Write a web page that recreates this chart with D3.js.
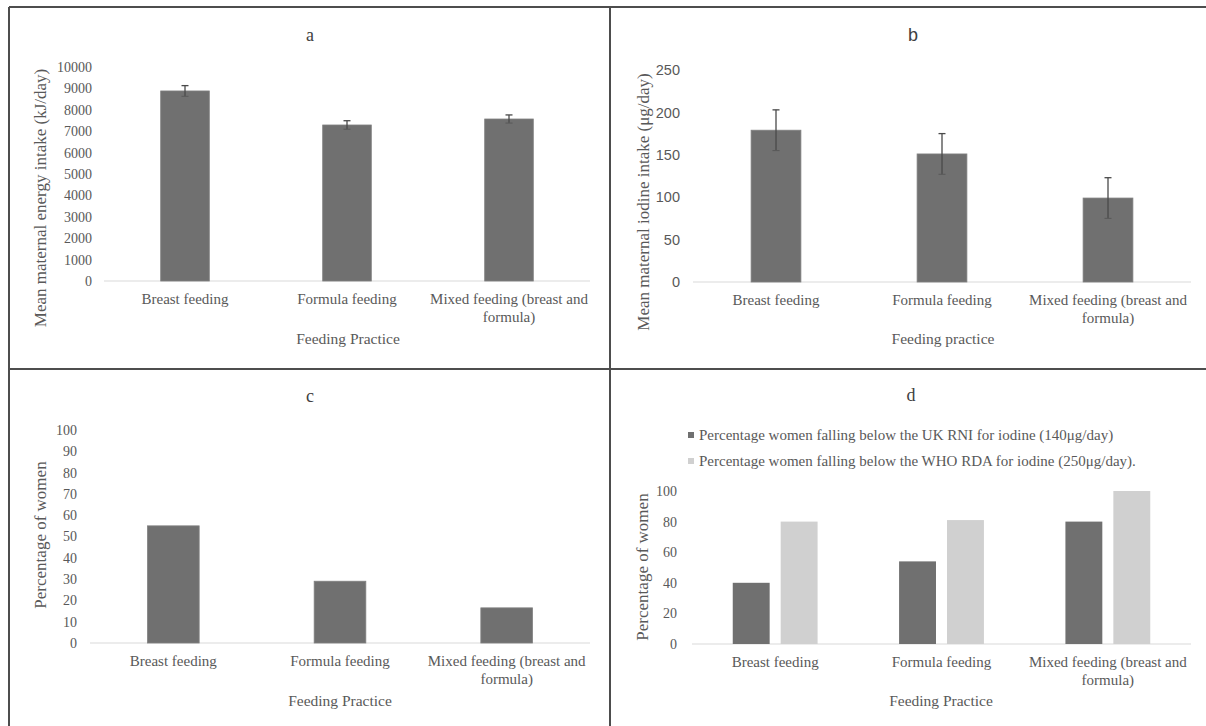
<!DOCTYPE html>
<html><head><meta charset="utf-8">
<script src="https://cdn.jsdelivr.net/npm/d3@7"></script>
<style>
body{margin:0;background:#fff;}
svg{display:block;}
</style></head>
<body>
<svg id="c" width="1206" height="726"></svg>
<script>
// ---- Data ----
const categories = ["Breast feeding", "Formula feeding", "Mixed feeding (breast and formula)"];

const energyMeans = [8880, 7290, 7570];
const energyErr = [250, 200, 190];
const energyTicks = [0,1000,2000,3000,4000,5000,6000,7000,8000,9000,10000];

const iodineMeans = [179, 151, 99];
const iodineErr = [24, 24, 24];
const iodineTicks = [0,50,100,150,200,250];

const pctWomenC = [55, 29, 16.5];
const pctTicksC = [0,10,20,30,40,50,60,70,80,90,100];

const seriesD = ["Percentage women falling below the UK RNI for iodine (140\u03bcg/day)",
                 "Percentage women falling below the WHO RDA for iodine (250\u03bcg/day)."];
const pctBelowRNI = [40, 54, 80];
const pctBelowWHO = [80, 81, 100];
const pctTicksD = [0,20,40,60,80,100];

// ---- Styles ----
const TXT = "#595959", DARK = "#707070", LIGHT = "#d0d0d0", AXIS = "#d9d9d9";
const SERIF = "'Liberation Serif','Times New Roman',serif";
const SANS = "'Liberation Sans',Arial,sans-serif";

const svg = d3.select("#c");

function wrap(sel, width) {
  sel.each(function() {
    const t = d3.select(this);
    const words = t.text().split(/\s+/);
    const y = t.attr("y"), dy = parseFloat(t.attr("dy")) || 0;
    t.text(null);
    let line = [], lineNo = 0;
    let ts = t.append("tspan").attr("x", 0).attr("y", y).attr("dy", dy + "em");
    for (const w of words) {
      line.push(w);
      ts.text(line.join(" "));
      if (ts.node().getComputedTextLength() > width && line.length > 1) {
        line.pop(); ts.text(line.join(" "));
        line = [w]; lineNo++;
        ts = t.append("tspan").attr("x", 0).attr("y", y).attr("dy", (dy + lineNo*1.2) + "em").text(w);
      }
    }
  });
}

function panel(o) {
  const g = svg.append("g");
  const x = d3.scaleBand().domain(categories).range(o.xr).paddingInner(o.pad).paddingOuter(o.pad/2);
  const y = d3.scaleLinear().domain(o.yd).range(o.yr);

  // y axis
  const ya = g.append("g").attr("transform", `translate(${o.xr[0]},0)`)
    .call(d3.axisLeft(y).tickValues(o.ticks).tickFormat(d3.format("d")).tickSize(0).tickPadding(o.tpad));
  ya.select(".domain").remove();
  ya.selectAll("text").attr("fill", TXT).style("font-family", o.tickFont || SERIF).style("font-size", (o.tickSize||14.5)+"px");

  // x axis
  const xa = g.append("g").attr("transform", `translate(0,${o.yr[0]})`)
    .call(d3.axisBottom(x).tickSize(0).tickPadding(12));
  xa.select(".domain").attr("stroke", AXIS).attr("stroke-width", 1.2)
    .attr("d", `M${o.xr[0]},0H${o.xr[1]}`);
  xa.selectAll("text").attr("fill", TXT).style("font-family", SERIF).style("font-size", "15px")
    .call(wrap, 165);

  // title, axis titles
  g.append("text").attr("x", o.titleX).attr("y", o.titleY).attr("text-anchor", "middle")
    .attr("fill", o.titleFill || "#404040").style("font-family", o.titleFont || SERIF).style("font-size", "18px").text(o.title);
  g.append("text").attr("x", o.xtX).attr("y", o.xtY).attr("text-anchor", "middle")
    .attr("fill", TXT).style("font-family", SERIF).style("font-size", "15.5px").text(o.xTitle);
  g.append("text").attr("transform", `translate(${o.ytX},${o.ytY}) rotate(-90)`)
    .attr("text-anchor", "middle").attr("dominant-baseline", "central")
    .attr("fill", TXT).style("font-family", SERIF).style("font-size", "17px").text(o.yTitle);
  return {g, x, y};
}

function singleBars(p, vals, errs) {
  const data = categories.map((c, i) => ({c, v: vals[i], e: errs ? errs[i] : 0}));
  p.g.selectAll("rect.bar").data(data).join("rect").attr("class", "bar")
    .attr("x", d => p.x(d.c)).attr("width", p.x.bandwidth())
    .attr("y", d => p.y(d.v)).attr("height", d => p.y(0) - p.y(d.v))
    .attr("fill", DARK).attr("stroke", "#808080").attr("stroke-width", 0.8);
  if (errs) {
    const cx = d => p.x(d.c) + p.x.bandwidth()/2;
    const eg = p.g.selectAll("g.err").data(data).join("g").attr("class", "err");
    eg.append("line").attr("x1", cx).attr("x2", cx)
      .attr("y1", d => p.y(d.v + d.e)).attr("y2", d => p.y(d.v - d.e))
      .attr("stroke", "#4a4a4a").attr("stroke-width", 1.3);
    eg.append("line").attr("x1", d => cx(d) - 3.5).attr("x2", d => cx(d) + 3.5)
      .attr("y1", d => p.y(d.v + d.e)).attr("y2", d => p.y(d.v + d.e))
      .attr("stroke", "#4a4a4a").attr("stroke-width", 1.3);
    eg.append("line").attr("x1", d => cx(d) - 3.5).attr("x2", d => cx(d) + 3.5)
      .attr("y1", d => p.y(d.v - d.e)).attr("y2", d => p.y(d.v - d.e))
      .attr("stroke", "#5a5a5a").attr("stroke-width", 1.1);
  }
}

// Panel a
const pa = panel({xr:[104,590], pad:0.70, yd:[0,10000], yr:[281,67], ticks:energyTicks, tpad:12,
  tickSize:14, title:"a", titleX:310, titleY:41, xTitle:"Feeding Practice", xtX:348, xtY:344,
  yTitle:"Mean maternal energy intake (kJ/day)", ytX:40, ytY:198});
singleBars(pa, energyMeans, energyErr);

// Panel b
const pb = panel({xr:[693,1191], pad:0.70, yd:[0,250], yr:[282,70], ticks:iodineTicks, tpad:13,
  tickFont:SANS, tickSize:14.5, titleFont:SANS, title:"b", titleX:913, titleY:41,
  xTitle:"Feeding practice", xtX:943, xtY:344,
  yTitle:"Mean maternal iodine intake (\u03bcg/day)", ytX:643, ytY:202});
singleBars(pb, iodineMeans, iodineErr);

// Panel c
const pc = panel({xr:[90,590], pad:0.69, yd:[0,100], yr:[643,430], ticks:pctTicksC, tpad:13,
  tickSize:14, title:"c", titleX:310, titleY:402, xTitle:"Feeding Practice", xtX:340, xtY:706,
  yTitle:"Percentage of women", ytX:40, ytY:535});
singleBars(pc, pctWomenC, null);

// Panel d
const pd = panel({xr:[692,1191], pad:0.49, yd:[0,100], yr:[644,491], ticks:pctTicksD, tpad:15,
  tickSize:14, title:"d", titleX:911, titleY:401, xTitle:"Feeding Practice", xtX:941, xtY:706,
  yTitle:"Percentage of women", ytX:642, ytY:567});
const xs = d3.scaleBand().domain(seriesD).range([0, pd.x.bandwidth()]).paddingInner(0.23);
const colD = d3.scaleOrdinal().domain(seriesD).range([DARK, LIGHT]);
const dData = categories.map((c, i) => ({c, vals: [pctBelowRNI[i], pctBelowWHO[i]]}));
pd.g.selectAll("g.grp").data(dData).join("g").attr("class", "grp")
  .attr("transform", d => `translate(${pd.x(d.c)},0)`)
  .selectAll("rect").data(d => seriesD.map((s, j) => ({s, v: d.vals[j]}))).join("rect")
  .attr("x", d => xs(d.s)).attr("width", xs.bandwidth())
  .attr("y", d => pd.y(d.v)).attr("height", d => pd.y(0) - pd.y(d.v))
  .attr("fill", d => colD(d.s));
// Legend
const lg = pd.g.selectAll("g.leg").data(seriesD).join("g").attr("class", "leg")
  .attr("transform", (d, i) => `translate(691,${435 + i*26})`);
lg.append("rect").attr("x", -3).attr("y", -3).attr("width", 6).attr("height", 6).attr("fill", d => colD(d));
lg.append("text").attr("x", 8).attr("y", 0).attr("dominant-baseline", "central")
  .attr("fill", TXT).style("font-family", SERIF).style("font-size", "15px").text(d => d);

// Frame lines
const frame = [[9,7,1206,7],[9,7,9,726],[610,7,610,726],[9,369,1206,369]];
svg.selectAll("line.frame").data(frame).join("line").attr("class", "frame")
  .attr("x1", d => d[0]).attr("y1", d => d[1]).attr("x2", d => d[2]).attr("y2", d => d[3])
  .attr("stroke", "#4d4d4d").attr("stroke-width", 2);
</script>
</body></html>
